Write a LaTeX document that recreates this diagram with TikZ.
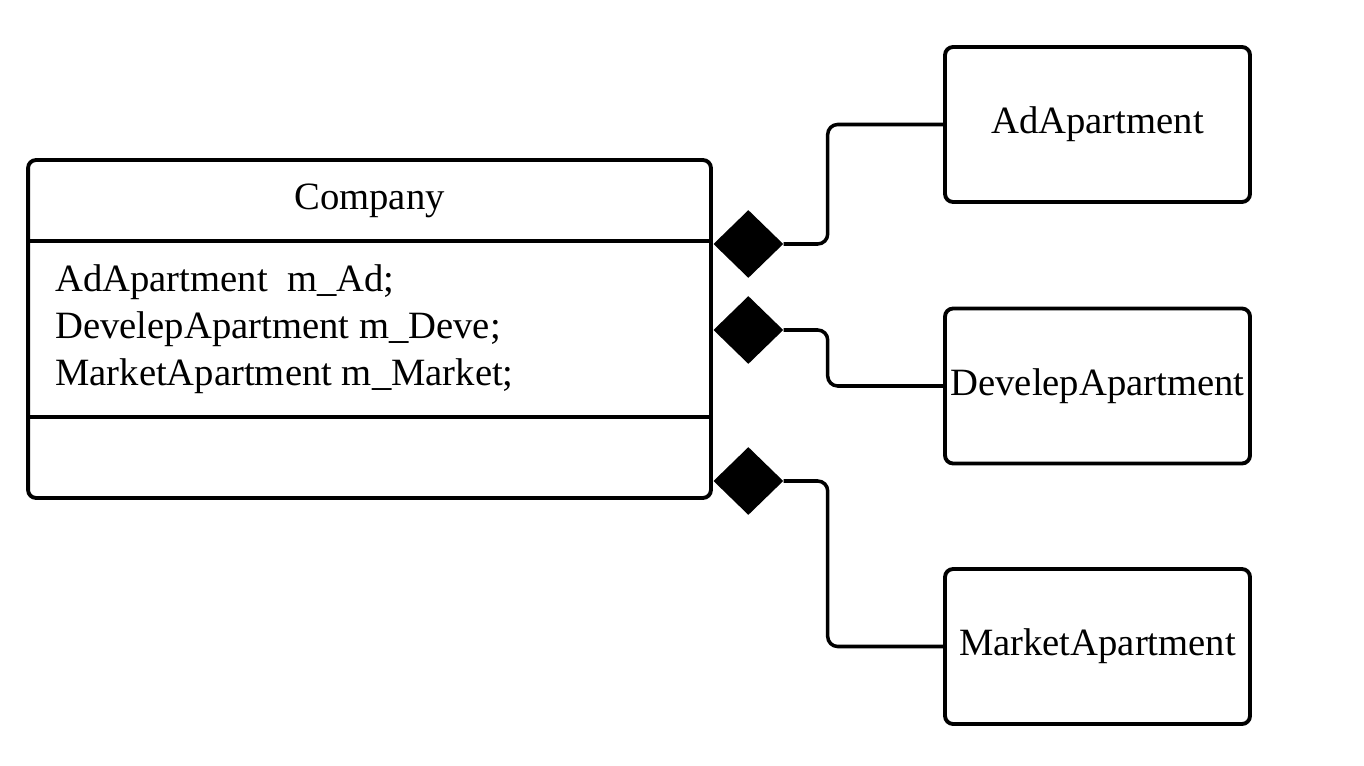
\documentclass[tikz,border=0pt]{standalone}
\usepackage{fontspec}
\setmainfont{Liberation Serif}
\usetikzlibrary{positioning, shapes.geometric}

\tikzset{
  classbox/.style={draw, line width=2.2pt, rounded corners=0.16cm,
    minimum width=6.1cm, minimum height=3.1cm, inner sep=0pt,
    font=\fontsize{22}{26}\selectfont},
  compbox/.style={draw, line width=2.2pt, rounded corners=0.16cm,
    minimum width=13.66cm, minimum height=6.76cm, inner sep=0pt},
  member/.style={anchor=base west, inner sep=0pt,
    font=\fontsize{22}{26}\selectfont},
  diam/.style={diamond, fill=black, inner sep=0pt, aspect=1,
    minimum width=1.4cm, minimum height=1.36cm},
  link/.style={line width=2pt, rounded corners=0.2cm}
}

\begin{document}
\begin{tikzpicture}[x=0.02cm, y=-0.02cm]
\useasboundingbox (0,0) rectangle (1364,766);

% the class with its members
\node[compbox] (company) at (369.5,329) {};
\draw[line width=2.2pt] (company.west |- 0,241) -- (company.east |- 0,241);
\draw[line width=2.2pt] (company.west |- 0,417) -- (company.east |- 0,417);
\node[member, anchor=base] (title) at (369.5,210) {Company};
\node[member] (mAd) at (55,292) {AdApartment\ \ m\_Ad;};
\node[member] (mDeve) at (55,338) {DevelepApartment m\_Deve;};
\node[member] (mMarket) at (55,385) {MarketApartment m\_Market;};

% the parts
\node[classbox] (ad) at (1097.5,124.5) {AdApartment};
\node[classbox] (deve) at (1097.5,386) {DevelepApartment};
\node[classbox] (market) at (1097.5,646.5) {MarketApartment};

% composition ends
\node[diam, anchor=west] (dAd) at (713,244) {};
\node[diam, anchor=west] (dDeve) at (713,330) {};
\node[diam, anchor=west] (dMarket) at (713,481) {};

\draw[link] (dAd.east) -- ++(44,0) |- (ad.west);
\draw[link] (dDeve.east) -- ++(44,0) |- (deve.west);
\draw[link] (dMarket.east) -- ++(44,0) |- (market.west);
\end{tikzpicture}
\end{document}
